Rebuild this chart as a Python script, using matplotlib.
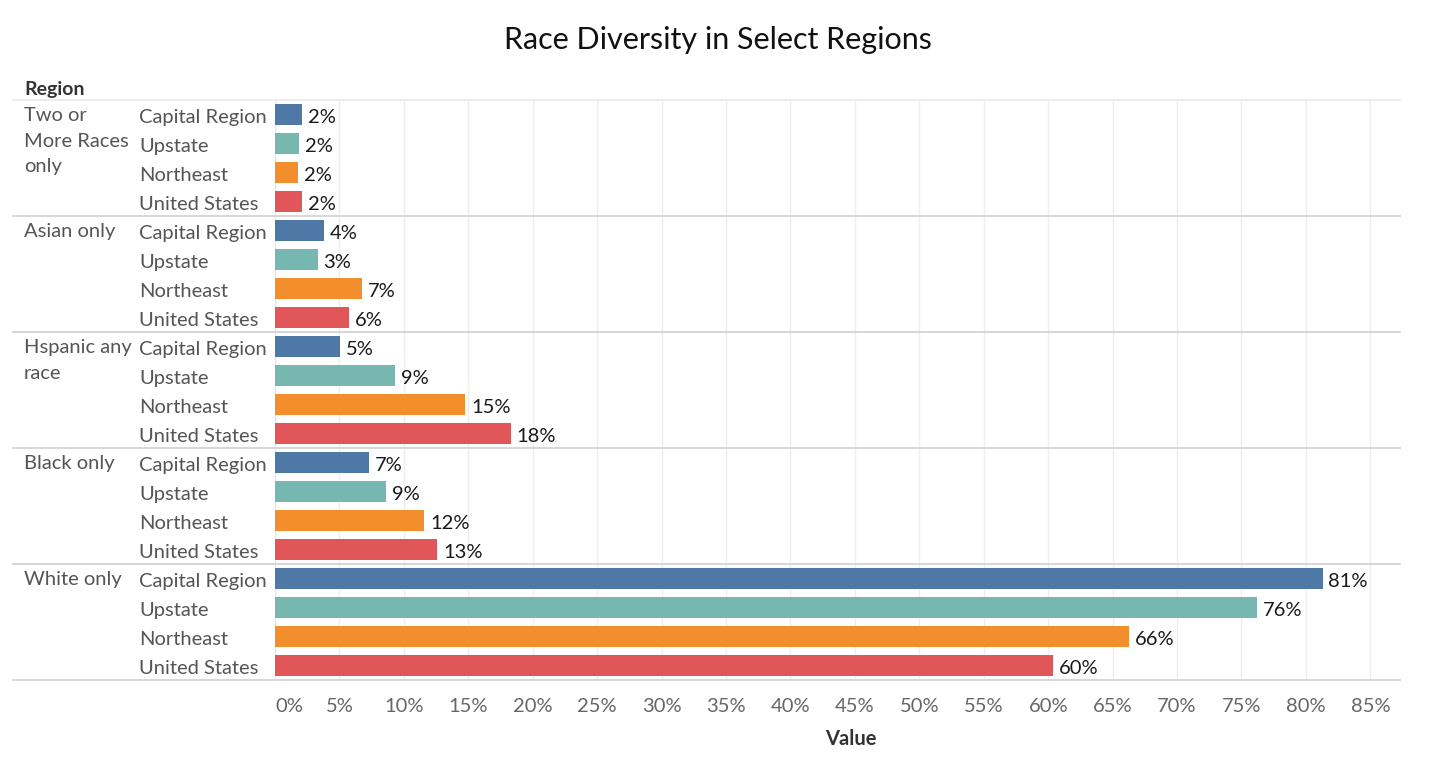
import matplotlib.pyplot as plt
import matplotlib.transforms as mtransforms
from matplotlib.lines import Line2D

plt.rcParams['font.family'] = ['Lato', 'DejaVu Sans']

# data (percent)
races = ['Two or\nMore Races\nonly', 'Asian only', 'Hspanic any\nrace', 'Black only', 'White only']
regions = ['Capital Region', 'Upstate', 'Northeast', 'United States']
capital = [2.1, 3.8, 5.05, 7.3, 81.3]
upstate = [1.9, 3.3, 9.3, 8.6, 76.2]
northeast = [1.8, 6.75, 14.75, 11.6, 66.3]
united_states = [2.1, 5.75, 18.3, 12.6, 60.4]
series = [capital, upstate, northeast, united_states]
colors = ['#4e79a7', '#76b7b2', '#f28e2b', '#e15759']
ticks = list(range(0, 90, 5))

fig = plt.figure(figsize=(14.36, 7.7), dpi=100)
ax = fig.add_axes([275 / 1436, 1 - 680 / 770, 1125 / 1436, 580 / 770])

n_reg = len(regions)
n_rows = len(races) * n_reg
trans = mtransforms.blended_transform_factory(fig.transFigure, ax.transData)
fs = 14.5

for g, race in enumerate(races):
    for r, region in enumerate(regions):
        y = g * n_reg + r + 0.54
        v = series[r][g]
        ax.barh(g * n_reg + r + 0.5, v, height=0.72, color=colors[r], zorder=3)
        ax.text(v + 0.45, y, f'{v:.0f}%', va='center_baseline', ha='left', fontsize=fs, color='#1a1a1a')
        ax.text(139 / 1436, y, region, transform=trans, va='center_baseline', ha='left',
                fontsize=fs, color='#555555')
    ax.text(24 / 1436, g * n_reg + 0.24, race, transform=trans, va='top', ha='left',
            fontsize=fs, color='#555555', linespacing=1.62)

# group separators running across label area and plot
for g in range(len(races) + 1):
    ln = Line2D([13 / 1436, 1400 / 1436], [g * n_reg, g * n_reg], transform=trans,
                color='#d4d4d4' if g > 0 else '#ececec', lw=1.3, zorder=4, clip_on=False)
    fig.add_artist(ln)

fig.text(24 / 1436, 1 - 88 / 770, 'Region', fontsize=14, fontweight='bold',
         color='#333333', va='center_baseline', ha='left')

ax.set_xlim(0, 87.3)
ax.set_ylim(n_rows, 0)
ax.set_yticks([])
ax.set_xticks(ticks)
ax.set_xticklabels([f'{t}%' for t in ticks], fontsize=fs, color='#666666')
first = ax.get_xticklabels()[0]
first.set_ha('left')
first.set_transform(first.get_transform() + mtransforms.ScaledTranslation(4 / 100, 0, fig.dpi_scale_trans))
ax.tick_params(axis='x', length=0, pad=13)
ax.grid(axis='x', color='#eeeeee', lw=1, zorder=0)
for s in ax.spines.values():
    s.set_visible(False)
ax.axvline(0, color='#e6e6e6', lw=1, zorder=2)

ax.set_xlabel('Value', fontsize=fs, fontweight='bold', color='#333333')
ax.xaxis.set_label_coords(0.512, -0.085)
fig.text(0.5, 1 - 40 / 770, 'Race Diversity in Select Regions', fontsize=22,
         ha='center', va='center', color='#111111')

fig.savefig('out.png', dpi=100)
